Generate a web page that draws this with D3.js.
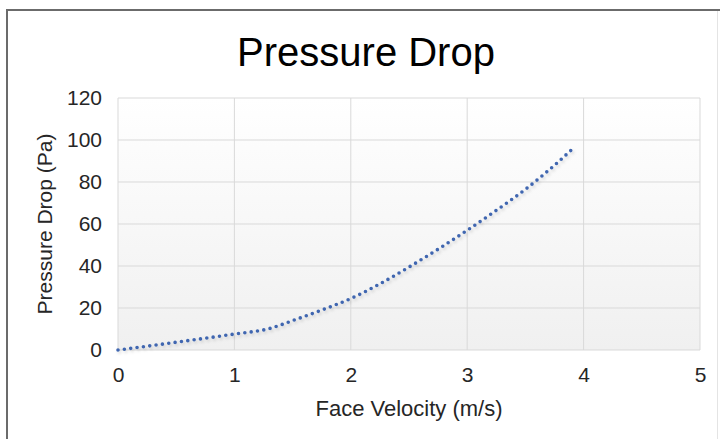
<!DOCTYPE html>
<html>
<head>
<meta charset="utf-8">
<script src="https://cdn.jsdelivr.net/npm/d3@7"></script>
<style>
body { margin: 0; background: #fff; }
svg { display: block; }
</style>
</head>
<body>
<svg width="720" height="439"></svg>
<script>
// values
var velocity = [0, 0.25, 0.5, 0.75, 1, 1.3, 1.5, 1.75, 2, 2.25, 2.5, 2.75, 3, 3.25, 3.5, 3.75, 3.9];
var pressure = [0, 1.8, 3.7, 5.6, 7.6, 10.2, 14, 19, 24.5, 31.5, 39.5, 48, 57, 66.5, 76.5, 88, 95.5];
var xTicks = [0, 1, 2, 3, 4, 5];
var yTicks = [0, 20, 40, 60, 80, 100, 120];

var svg = d3.select("svg");
var margin = {top: 98, right: 20, bottom: 89, left: 118};
var width = 700 - margin.left;
var height = 350 - margin.top;
var font = "'Liberation Sans', Arial, sans-serif";

// frame
svg.append("line").attr("x1", 6).attr("y1", 10).attr("x2", 720).attr("y2", 10)
  .attr("stroke", "#6b6b6b").attr("stroke-width", 2);
svg.append("line").attr("x1", 7).attr("y1", 10).attr("x2", 7).attr("y2", 439)
  .attr("stroke", "#6b6b6b").attr("stroke-width", 2);
svg.append("line").attr("x1", 717.5).attr("y1", 11).attr("x2", 717.5).attr("y2", 439)
  .attr("stroke", "#e4e4e4").attr("stroke-width", 1);

var defs = svg.append("defs");
var grad = defs.append("linearGradient").attr("id", "bg")
  .attr("x1", 0).attr("y1", 0).attr("x2", 0).attr("y2", 1);
grad.append("stop").attr("offset", "0%").attr("stop-color", "#ffffff");
grad.append("stop").attr("offset", "100%").attr("stop-color", "#f0f0f0");

var shadow = defs.append("filter").attr("id", "shadow")
  .attr("x", "-10%").attr("y", "-10%").attr("width", "120%").attr("height", "120%");
shadow.append("feDropShadow").attr("dx", 1.5).attr("dy", 2).attr("stdDeviation", 1.5)
  .attr("flood-color", "#000").attr("flood-opacity", 0.15);

var xScale = d3.scaleLinear().domain([0, 5]).range([0, width]);
var yScale = d3.scaleLinear().domain([0, 120]).range([height, 0]);

var g = svg.append("g").attr("transform", "translate(" + margin.left + "," + margin.top + ")");

g.append("rect").attr("width", width).attr("height", height).attr("fill", "url(#bg)");

// gridlines
g.append("g").selectAll("line").data(yTicks).enter().append("line")
  .attr("x1", 0).attr("x2", width)
  .attr("y1", function(d) { return yScale(d); })
  .attr("y2", function(d) { return yScale(d); })
  .attr("stroke", "#d9d9d9").attr("stroke-width", 1);
g.append("g").selectAll("line").data(xTicks).enter().append("line")
  .attr("y1", 0).attr("y2", height)
  .attr("x1", function(d) { return xScale(d); })
  .attr("x2", function(d) { return xScale(d); })
  .attr("stroke", "#d9d9d9").attr("stroke-width", 1);

var xAxis = d3.axisBottom().scale(xScale).tickValues(xTicks).tickFormat(d3.format("d"))
  .tickSize(0).tickPadding(17);
var yAxis = d3.axisLeft().scale(yScale).tickValues(yTicks).tickFormat(d3.format("d"))
  .tickSize(0).tickPadding(16);

var gx = g.append("g").attr("transform", "translate(0," + height + ")").call(xAxis);
var gy = g.append("g").call(yAxis);
[gx, gy].forEach(function(a) {
  a.attr("font-family", null).attr("font-size", null);
  a.select(".domain").remove();
  a.selectAll("text").style("font-family", font)
    .style("font-size", "21px").style("fill", "#262626");
});

// curve
var line = d3.line()
  .x(function(d) { return xScale(d[0]); })
  .y(function(d) { return yScale(d[1]); })
  .curve(d3.curveMonotoneX);

g.append("path")
  .datum(d3.zip(velocity, pressure))
  .attr("d", line)
  .attr("fill", "none")
  .attr("stroke", "#3f66b0")
  .attr("stroke-width", 3.6)
  .attr("stroke-linecap", "round")
  .attr("stroke-dasharray", "0 6.4")
  .attr("filter", "url(#shadow)");

// titles
svg.append("text")
  .attr("x", 366).attr("y", 66)
  .attr("text-anchor", "middle")
  .style("font-family", font)
  .style("font-size", "40px")
  .style("fill", "#000")
  .text("Pressure Drop");

svg.append("text")
  .attr("x", 409).attr("y", 416)
  .style("text-anchor", "middle")
  .style("font-family", font)
  .style("font-size", "22px")
  .style("fill", "#262626")
  .text("Face Velocity (m/s)");

svg.append("text")
  .attr("transform", "translate(52," + (margin.top + height / 2) + ") rotate(-90)")
  .style("text-anchor", "middle")
  .style("font-family", font)
  .style("font-size", "21px")
  .style("fill", "#262626")
  .text("Pressure Drop (Pa)");
</script>
</body>
</html>
